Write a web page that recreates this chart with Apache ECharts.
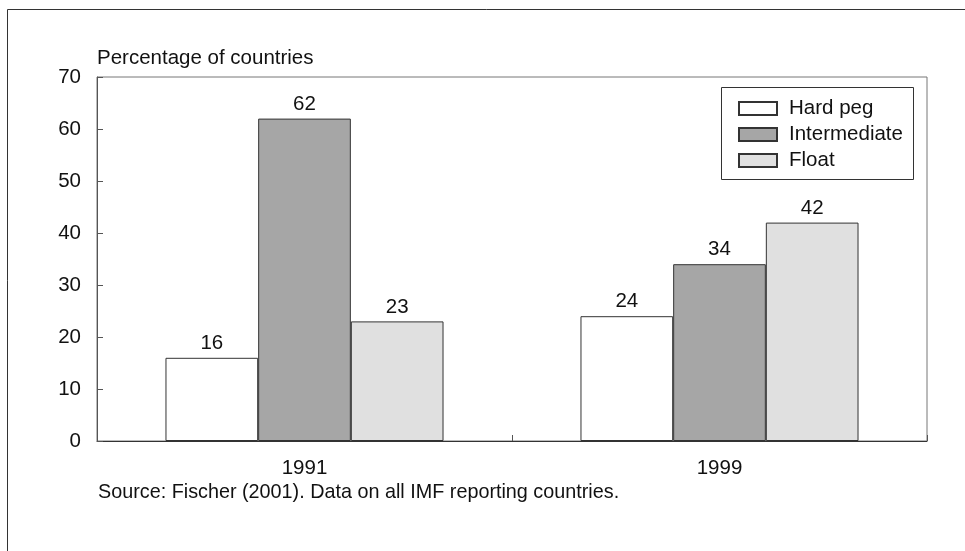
<!DOCTYPE html>
<html>
<head>
<meta charset="utf-8">
<script src="https://cdn.jsdelivr.net/npm/echarts@6/dist/echarts.min.js"></script>
<style>
  html, body { margin: 0; padding: 0; background: #fff; }
  #chart { width: 965px; height: 551px; }
</style>
</head>
<body>
<div id="chart"></div>
<script>
// data
const years = ["1991", "1999"];
const hardPeg = [16, 24];
const intermediate = [62, 34];
const floatRegime = [23, 42];
const yTicks = [0, 10, 20, 30, 40, 50, 60, 70];

const font = "Liberation Sans, Arial, sans-serif";
const fs = 20.5;

function barSeries(name, data, color) {
    return {
        name: name,
        type: "bar",
        data: data,
        barGap: "0%",
        barCategoryGap: "33%",
        itemStyle: { color: color, borderColor: "#333", borderWidth: 1 },
        label: {
            show: true,
            position: "top",
            distance: 4,
            color: "#111",
            fontSize: fs,
            fontFamily: font,
        },
    };
}

const chart = echarts.init(document.getElementById("chart"));
chart.setOption({
    animation: false,
    textStyle: { fontFamily: font },
    title: {
        text: "Source: Fischer (2001). Data on all IMF reporting countries.",
        left: 93,
        top: 478,
        textStyle: { fontSize: 19.8, fontWeight: "normal", color: "#111", fontFamily: font },
    },
    legend: {
        orient: "vertical",
        left: 733,
        top: 93,
        itemWidth: 38,
        itemHeight: 13,
        itemGap: 5,
        icon: "rect",
        textStyle: { fontSize: fs, color: "#111", lineHeight: 21, padding: [0, 0, 0, 7], fontFamily: font },
        data: ["Hard peg", "Intermediate", "Float"],
    },
    grid: {
        left: 97,
        top: 77,
        width: 830,
        height: 364,
        show: true,
        borderColor: "#777",
        borderWidth: 1,
    },
    xAxis: {
        type: "category",
        data: years,
        axisLine: { lineStyle: { color: "#333", width: 1 } },
        axisTick: { show: true, inside: true, length: 6, lineStyle: { color: "#555" } },
        axisLabel: { fontSize: fs, color: "#111", margin: 17, fontFamily: font },
    },
    yAxis: {
        type: "value",
        min: yTicks[0],
        max: yTicks[yTicks.length - 1],
        interval: 10,
        name: "Percentage of countries",
        nameLocation: "end",
        nameGap: 8,
        nameTextStyle: { align: "left", fontSize: fs, color: "#111", fontFamily: font },
        axisLine: { show: true, lineStyle: { color: "#555", width: 1 } },
        axisTick: { show: true, inside: true, length: 6, lineStyle: { color: "#555" } },
        axisLabel: { fontSize: fs, color: "#111", margin: 16, fontFamily: font },
        splitLine: { show: false },
    },
    graphic: [
        {
            type: "rect",
            z: -1,
            shape: { x: 7.5, y: 9.5, width: 1000, height: 600 },
            style: { fill: "none", stroke: "#333", lineWidth: 1 },
        },
        {
            type: "rect",
            shape: { x: 721.5, y: 87.5, width: 192, height: 92 },
            style: { fill: "#fff", stroke: "#333", lineWidth: 1 },
            z: 0,
        },
    ],
    series: [
        barSeries("Hard peg", hardPeg, "#ffffff"),
        barSeries("Intermediate", intermediate, "#a6a6a6"),
        barSeries("Float", floatRegime, "#e0e0e0"),
    ],
});
</script>
</body>
</html>
